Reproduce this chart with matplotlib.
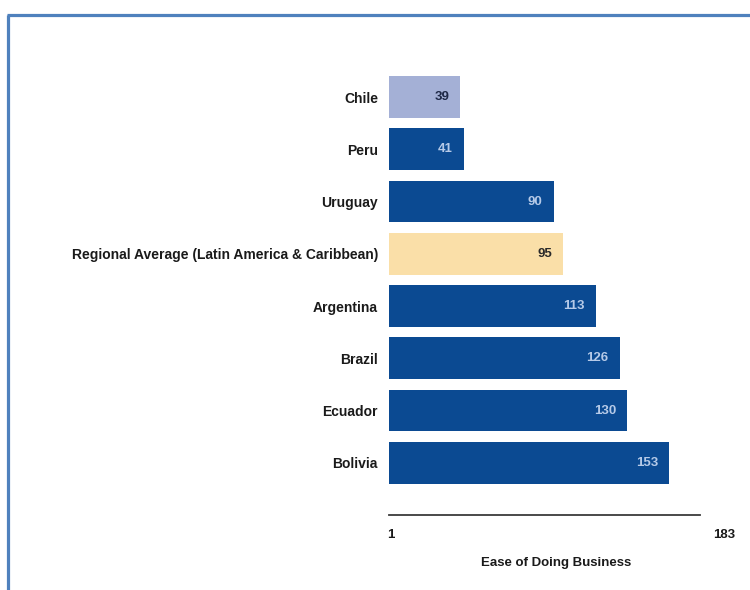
import matplotlib.pyplot as plt
from matplotlib.lines import Line2D

countries = [
    "Chile",
    "Peru",
    "Uruguay",
    "Regional Average (Latin America & Caribbean)",
    "Argentina",
    "Brazil",
    "Ecuador",
    "Bolivia",
]
ranks = [39, 41, 90, 95, 113, 126, 130, 153]
bar_colors = ["#A4B0D6", "#0B4A92", "#0B4A92", "#FADFA8", "#0B4A92", "#0B4A92", "#0B4A92", "#0B4A92"]
value_colors = ["#1E2846", "#B6CAE8", "#B6CAE8", "#2A2A2A", "#B6CAE8", "#B6CAE8", "#B6CAE8", "#B6CAE8"]
tick_values = [1, 183]
tick_labels = ["1", "183"]
x_label = "Ease of Doing Business"

FONT = ["Liberation Sans Narrow", "Liberation Sans", "DejaVu Sans"]
plt.rcParams["font.family"] = FONT

fig = plt.figure(figsize=(7.5, 5.9), dpi=100)
fig.patch.set_facecolor("white")

# axes placed in pixel terms: x=0 at 389px, 1.83 px per rank
ax = fig.add_axes([389 / 750, 1 - 515 / 590, 348 / 750, 444 / 590])
ypos = list(range(len(countries)))
ax.barh(ypos, ranks, height=0.8, color=bar_colors, edgecolor="none")
ax.set_xlim(0, 190)
ax.set_ylim(8.0, -0.5)

for y, v, c in zip(ypos, ranks, value_colors):
    ax.annotate(str(v), xy=(v, y), xytext=(-8, 0), textcoords="offset points",
                ha="right", va="center", fontsize=9.5, fontweight="bold", color=c)

ax.set_yticks(ypos)
ax.set_yticklabels(countries, fontsize=10, fontweight="bold", color="#1A1A1A")
ax.tick_params(axis="y", length=0, pad=8)

ax.set_xticks(tick_values)
ax.set_xticklabels(tick_labels, fontsize=9.5, fontweight="bold", color="#1A1A1A")
ax.tick_params(axis="x", length=0, pad=10)
ax.set_xlabel(x_label, fontsize=9.5, fontweight="bold", color="#1A1A1A")
ax.xaxis.set_label_coords(167.5 / 348, -42 / 444)

for side in ["top", "right", "left"]:
    ax.spines[side].set_visible(False)
ax.spines["bottom"].set_bounds(0, 170)
ax.spines["bottom"].set_color("#3A3A3A")
ax.spines["bottom"].set_linewidth(1.3)
ax.set_facecolor("none")

# blue frame around the figure (cropped on right and bottom)
frame_color = "#4F81BD"
fig.add_artist(Line2D([8 / 750, 8 / 750], [1 - 15 / 590, 0], color=frame_color, linewidth=2.3,
                      transform=fig.transFigure, solid_capstyle="butt"))
fig.add_artist(Line2D([7 / 750, 1], [1 - 15 / 590, 1 - 15 / 590], color=frame_color, linewidth=2.3,
                      transform=fig.transFigure, solid_capstyle="butt"))

fig.savefig("out.png", dpi=100)
